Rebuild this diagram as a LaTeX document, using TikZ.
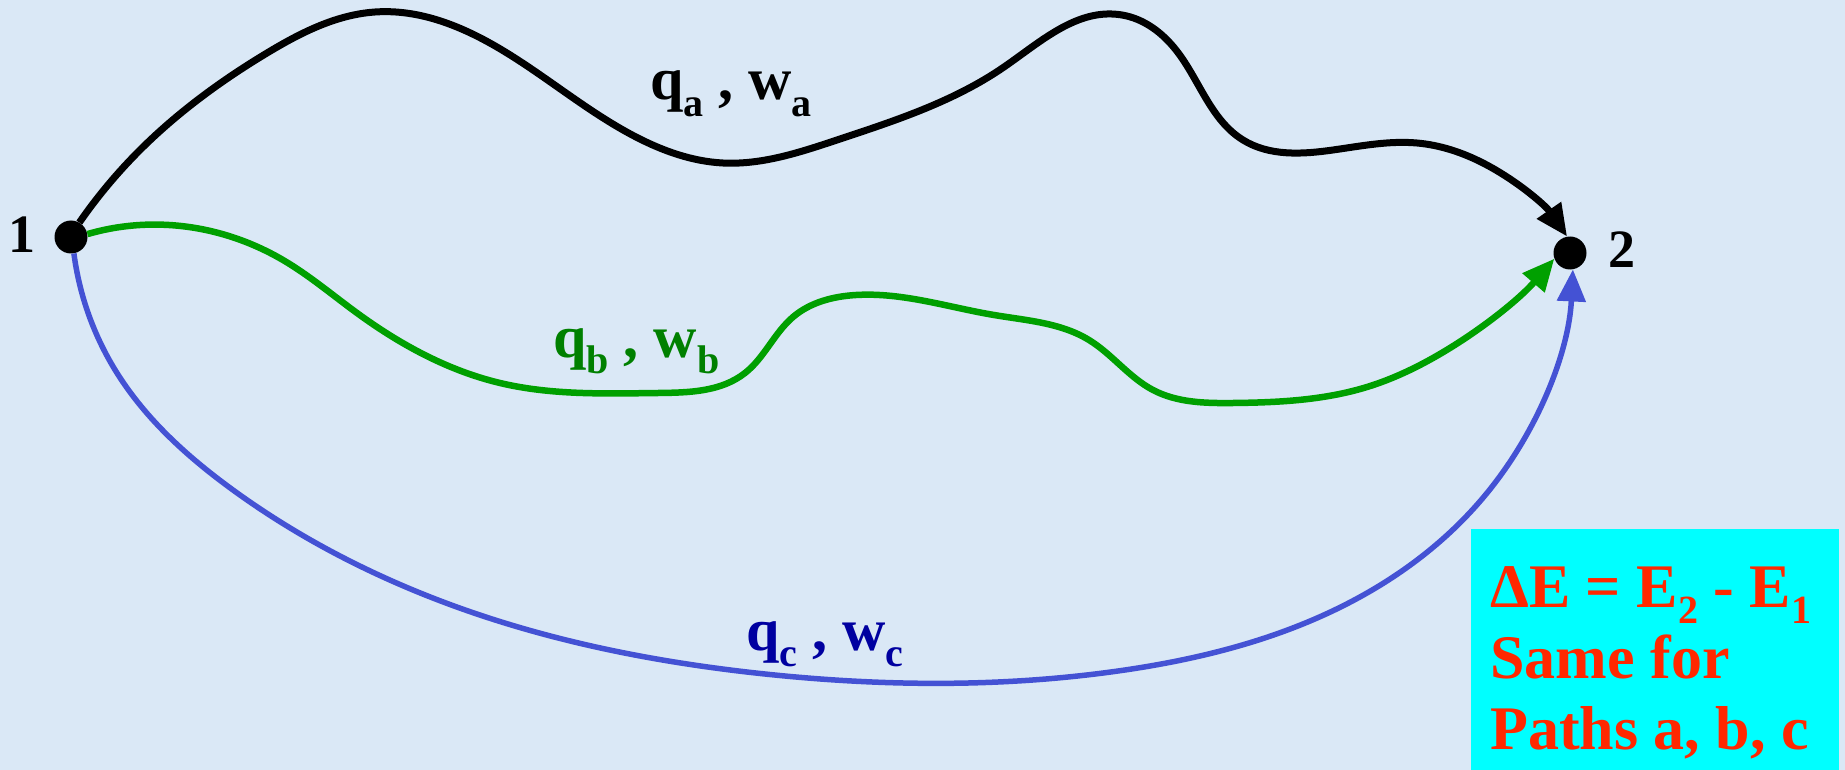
\documentclass[tikz,border=0pt]{standalone}
\usepackage{fontspec}
\setmainfont{Liberation Serif}
\usepackage{tikz}
\usetikzlibrary{positioning,arrows.meta,hobby}
\definecolor{bgblue}{RGB}{218,232,246}
\definecolor{pathgreen}{RGB}{0,160,0}
\definecolor{pathblue}{RGB}{68,82,212}
\definecolor{labgreen}{RGB}{0,128,0}
\definecolor{labblue}{RGB}{0,0,160}
\definecolor{boxcyan}{RGB}{0,255,255}
\definecolor{boxred}{RGB}{255,40,0}
\newcommand{\idx}[1]{\raisebox{-0.27em}{\fontsize{40}{40}\selectfont #1}}
\tikzset{
  statedot/.style={circle, fill=black, inner sep=0pt, minimum size=33pt},
  statelbl/.style={font=\fontsize{54}{54}\selectfont\bfseries, inner sep=0pt, anchor=base},
  qwlbl/.style={font=\fontsize{60}{60}\selectfont\bfseries, inner sep=0pt, anchor=base west},
  pth/.style={use Hobby shortcut, line width=7pt, -{Triangle[length=32pt,width=28pt]}},
  infotext/.style={text=boxred, anchor=north west, align=left, inner sep=0pt, font=\fontsize{62}{71}\selectfont\bfseries},
}
\begin{document}
\begin{tikzpicture}[x=1pt,y=-1pt]
    \fill[bgblue] (0,0) rectangle (1845,770);
    \useasboundingbox (0,0) rectangle (1845,770);
    \fill[boxcyan] (1471,529) rectangle (1839,770);
    \node[statedot] (n1) at (71,237) {};
    \node[statedot] (n2) at (1570,253) {};
    \node[statelbl] (l1) at (22,253) {1};
    \node[statelbl] (l2) at (1622,267) {2};
    % path a
    \draw[pth] (n1.60) .. (140,150) .. (267,53) .. (375,12) .. (502,50) .. (636,137) .. (723,163) .. (837,140) .. (1004,67) .. (1122,15) .. (1176,50) .. (1243,140) .. (1333,150) .. (1417,143) .. (1483,163) .. (n2.100);
    % path b
    \draw[pth, pathgreen, line width=6.5pt] (n1.10) .. (140,225) .. (283,260) .. (357,313) .. (500,383) .. (658,393) .. (745,373) .. (793,317) .. (856,295) .. (994,315) .. (1089,340) .. (1153,390) .. (1233,403) .. (1367,387) .. (1433,358) .. (n2.200);
    % path c
    \draw[pth, pathblue, line width=5.5pt] (n1.-80) .. (117,373) .. (233,490) .. (471,612) .. (765,674) .. (1118,671) .. (1367,593) .. (1487,493) .. (n2.280);
    \node[qwlbl] (qa) at (650,100) {q\idx{a} , w\idx{a}};
    \node[qwlbl, text=labgreen] (qb) at (553,357) {q\idx{b} , w\idx{b}};
    \node[qwlbl, text=labblue] (qc) at (746,650) {q\idx{c} , w\idx{c}};
    \node[infotext] (dE) at (1490,566) {ΔE = E\idx{2} - E\idx{1}\\Same for\\Paths a, b, c};
\end{tikzpicture}
\end{document}
